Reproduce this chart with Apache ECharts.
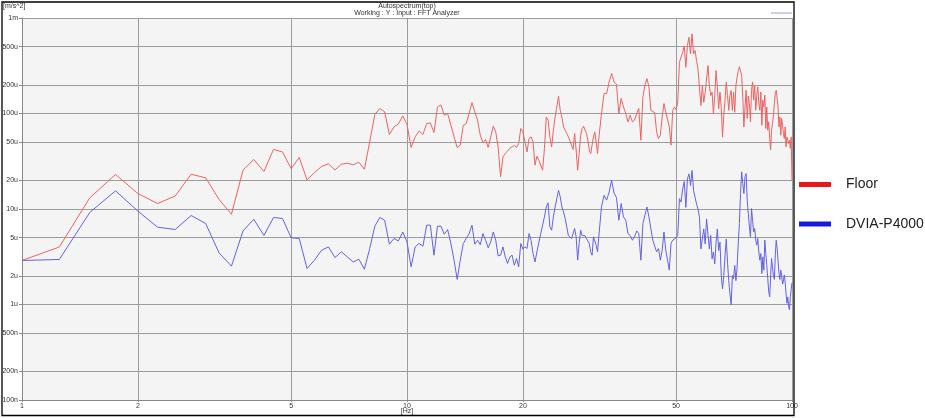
<!DOCTYPE html>
<html>
<head>
<meta charset="utf-8">
<script src="https://cdn.jsdelivr.net/npm/echarts@6/dist/echarts.min.js"></script>
<style>html,body{margin:0;padding:0;background:#fff;}#c{width:925px;height:418px;}</style>
</head>
<body>
<div id="c"></div>
<script>
// Frequency bins [Hz]
const freqLow = [1,1.25,1.5,1.75,2,2.25,2.5,2.75,3,3.25,3.5,3.75,4,4.25,4.5,4.75,5,5.25,5.5,5.75,6,6.25,6.5,6.75,7,7.25,7.5,7.75,8,8.25,8.5,8.75,9,9.25,9.5,9.75,10,10.25,10.5,10.75,11,11.25,11.5,11.75,12,12.25,12.5,12.75,13,13.25,13.5,13.75,14,14.25,14.5,14.75,15,15.25,15.5,15.75,16,16.25,16.5,16.75,17,17.25,17.5,17.75,18,18.25,18.5,18.75,19,19.25,19.5,19.75,20,20.25,20.5,20.75,21,21.25,21.5,21.75,22,22.25,22.5,22.75,23,23.25,23.5,23.75,24,24.25,24.5,24.75,25,25.25,25.5,25.75,26,26.25,26.5,26.75,27,27.25,27.5,27.75,28,28.25,28.5,28.75,29,29.25,29.5,29.75,30,30.25,30.5,30.75,31,31.25,31.5];
const freqHigh = [32,32.5,33,33.5,34,34.5,35,35.5,36,36.5,37,37.5,38,38.5,39,39.5,40,40.5,41,41.5,42,42.5,43,43.5,44,44.5,45,45.5,46,46.5,47,47.5,48,48.5,49,49.5,50,50.5,51,51.5,52,52.5,53,53.5,54,54.5,55,55.5,56,56.5,57,57.5,58,58.5,59,59.5,60,60.5,61,61.5,62,62.5,63,63.5,64,64.5,65,65.5,66,66.5,67,67.5,68,68.5,69,69.5,70,70.5,71,71.5,72,72.5,73,73.5,74,74.5,75,75.5,76,76.5,77,77.5,78,78.5,79,79.5,80,80.5,81,81.5,82,82.5,83,83.5,84,84.5,85,85.5,86,86.5,87,87.5,88,88.5,89,89.5,90,90.5,91,91.5,92,92.5,93,93.5,94,94.5,95,95.5,96,96.5,97,97.5,98,98.5,99,99.5,100];

// Autospectrum values in micro m/s^2 (u)
const floorLow = [2.89,4.0,13.1,23,14.5,11.4,13.7,23.1,21.2,12.6,8.8,25.5,33,24.7,42,39.6,26.5,
34.6,20.2,24.1,27.9,29.7,25.6,29.4,30.2,29.0,30.9,26.1,50.4,97.6,113,104,60.3,72.4,77.8,94.4,77,
44.1,56.9,65.7,60.3,78.6,79.7,63.2,117,123,96,100,75.4,56.9,44.1,46.6,75.4,78.6,100,130,104,85.1,59.3,49.7,53.4,44.1,56.9,73.6,64.2,44.1,21.7,35.1,38.1,40.6,43.3,44.7,46.2,44.1,48.5,69.7,64.2,
50.4,39.6,54.7,56.9,50.4,28.8,35.7,32.4,33.8,25.5,43.0,92.1,85.1,56.9,44.7,66.8,92.1,117,152,108,92.1,72.4,66.8,61.8,56.9,51.6,50.4,42.0,61.8,41.4,25.5,38.1,59.3,69.7,73.6,72.4,61.8,52.5,41.4,38.1,46.6,56.9,64.2,50.4,38.1,55];
const floorHigh = [100,162,162,214,262,214,203,100,144,117,100,81.7,96,81.7,85.1,100,113,52.5,149,198,232,190,108,108,102,64.2,54.7,59.3,92.1,127,104,108,72.4,46.6,108,117,110,
131,344,331,438,507,305,515,629,421,682,421,457,359,293,282,121,196,131,167,160,318,196,154,167,99,154,282,189,112,167,116,56.5,95.3,140,213,154,108,154,174,108,167,103,196,240,
279,308,320,252,149,72.4,117,175,88.7,152,127,81.7,175,214,138,198,108,156,190,127,108,168,75.4,138,117,156,69.7,117,66.8,81.7,54.7,41.4,66.8,78.6,96,127,162,175,144,117,72.4,92.1,59.3,88.7,75.4,61.8,54.7,72.4,44.7,56.9,52.5,48.5,52.5,43.3,56.9,20];
const dviaLow = [2.89,2.96,9.2,15.5,9.5,6.45,6.1,8.55,7.05,3.47,2.52,5.9,7.8,5.28,8.15,7.96,5.0,
4.91,2.38,2.91,3.70,4.01,3.10,3.56,3.15,2.79,2.98,2.34,3.86,6.61,8.15,7.63,4.28,4.91,4.63,5.75,4.53,
2.48,4.01,4.35,4.08,6.77,6.77,3.28,6.61,6.61,5.44,6.10,4.35,2.91,1.83,2.91,4.35,4.91,5.53,6.77,4.28,4.71,4.23,5.53,4.71,3.92,4.53,5.75,4.71,3.23,3.28,4.01,3.15,2.69,3.15,3.28,2.58,3.03,2.48,4.35,3.8,
4.01,3.86,5.53,4.71,3.42,2.79,3.56,3.42,5.53,6.77,8.27,10.5,11.6,6.50,6.0,8.27,10.5,12.9,15.7,13.4,10.5,9.33,7.96,6.50,5.26,5.11,4.91,4.91,6.25,5.11,2.91,4.35,6.0,5.26,5.26,5.26,4.91,5.11,4.35,3.56,3.28,5.11,5.26,4.18,3.56,5.2];
const dviaHigh = [10.5,13.9,12.4,15.1,20.0,14.7,13.2,7.63,11.4,8.27,7.63,5.53,5.26,4.71,5.11,5.90,5.53,2.91,7.05,8.61,10.5,8.27,7.96,4.71,4.91,3.56,3.86,2.91,3.70,5.75,3.70,2.91,2.29,4.35,4.71,4.71,5.0,
5.28,12.8,11.8,16.2,19.4,10.4,20.7,23.3,17.6,25.3,15.6,15.0,11.3,10.0,8.2,3.82,4.86,6.19,4.3,7.87,7.6,3.82,5.28,3.00,3.55,2.66,4.49,6.19,3.67,4.49,2.01,1.46,2.01,3.26,4.86,2.77,1.78,1.29,1.0,2.01,1.86,2.56,1.78,2.4,
4.35,7.05,14.5,24.5,18.5,14.5,21.7,23.5,12.4,8.97,6.50,5.11,10.1,7.63,5.75,6.25,4.71,4.18,4.91,3.56,2.91,3.42,2.11,3.15,2.29,4.71,3.42,2.58,1.87,1.36,1.20,2.0,3.03,2.48,2.0,1.83,3.28,4.71,3.86,2.91,2.11,1.83,2.29,2.04,1.63,1.76,2.04,1.69,1.31,1.03,1.20,0.96,0.88,1.20,1.43,1.69];

// Axis ticks
const xTicks = [1,2,5,10,20,50,100];
const yTicks = [0.1,0.2,0.5,1,2,5,10,20,50,100,200,500,1000];
const seriesNames = ['Floor','DVIA-P4000'];

function pairs(fs, vs){ const out=[]; const n=Math.min(fs.length, vs.length); for(let i=0;i<n;i++) out.push([fs[i], vs[i]]); return out; }
const floorData = pairs(freqLow, floorLow).concat(pairs(freqHigh, floorHigh));
const dviaData = pairs(freqLow, dviaLow).concat(pairs(freqHigh, dviaHigh));

function yFmt(v){
  if (v >= 999) return Math.round(v/1000) + 'm';
  if (v >= 0.999) return Math.round(v) + 'u';
  return Math.round(v*1000) + 'n';
}

const FONT = 'Liberation Sans, Arial, sans-serif';
const chart = echarts.init(document.getElementById('c'));
chart.setOption({
  animation: false,
  backgroundColor: '#ffffff',
  graphic: [
    { type:'rect', shape:{x:2, y:2, width:792, height:413.5}, style:{fill:'none', stroke:'#000', lineWidth:1.3}, z:100 },
    { type:'text', x:3, y:6, style:{text:'[m/s^2]', fontSize:7, fontFamily:FONT, fill:'#333', verticalAlign:'middle'} },
    { type:'text', x:407, y:6, style:{text:'Autospectrum(top)', fontSize:7, fontFamily:FONT, fill:'#333', align:'center', verticalAlign:'middle'} },
    { type:'text', x:407, y:13.5, style:{text:'Working : Y : Input : FFT Analyzer', fontSize:7, fontFamily:FONT, fill:'#333', align:'center', verticalAlign:'middle'} },
    { type:'line', shape:{x1:771, y1:13, x2:792, y2:13}, style:{stroke:'#9a9ae8', lineWidth:1} }
  ],
  legend: {
    orient: 'vertical', left: 799, top: 177.5, padding: 0, itemWidth: 32, itemHeight: 5, itemGap: 25.5, icon: 'rect',
    textStyle: { fontSize: 14, color: '#222', fontFamily: FONT, padding: [0,0,0,10] },
    data: [
      { name: seriesNames[0], itemStyle: { color: '#e81818' } },
      { name: seriesNames[1], itemStyle: { color: '#1818e0' } }
    ]
  },
  grid: { left: 22, top: 18, width: 770, height: 382, show: true, backgroundColor: '#f4f4f4', borderWidth: 0, containLabel: false, outerBoundsMode: 'none' },
  xAxis: {
    type: 'log', logBase: 10, min: 1, max: 100,
    name: '[Hz]', nameLocation: 'middle', nameGap: 8, nameMoveOverlap: false,
    nameTextStyle: { fontSize: 7, color: '#333', fontFamily: FONT },
    axisLine: { show: true, lineStyle: { color: '#888', width: 1 } },
    axisTick: { show: true, length: 2, customValues: xTicks, lineStyle: { color: '#888' } },
    axisLabel: { customValues: xTicks, fontSize: 7, color: '#333', margin: 3, fontFamily: FONT, formatter: v => String(Math.round(v)) },
    splitLine: { show: true, lineStyle: { color: '#9c9c9c', width: 1 } },
    minorTick: { show: false }, minorSplitLine: { show: false }
  },
  yAxis: {
    type: 'log', logBase: 10, min: 0.1, max: 1000,
    axisLine: { show: true, lineStyle: { color: '#888', width: 1 } },
    axisTick: { show: true, length: 3, customValues: yTicks, lineStyle: { color: '#888' } },
    axisLabel: { customValues: yTicks, fontSize: 7, color: '#333', margin: 4, fontFamily: FONT, formatter: yFmt },
    splitLine: { show: true, lineStyle: { color: '#9c9c9c', width: 1 } }
  },
  series: [
    { name: seriesNames[0], type: 'line', data: floorData, symbol: 'none', showSymbol: false, lineStyle: { color: '#ee6262', width: 1 }, itemStyle: { color: '#ee6262' }, z: 3 },
    { name: seriesNames[1], type: 'line', data: dviaData, symbol: 'none', showSymbol: false, lineStyle: { color: '#6262e6', width: 1 }, itemStyle: { color: '#6262e6' }, z: 4 }
  ]
});
</script>
</body>
</html>
